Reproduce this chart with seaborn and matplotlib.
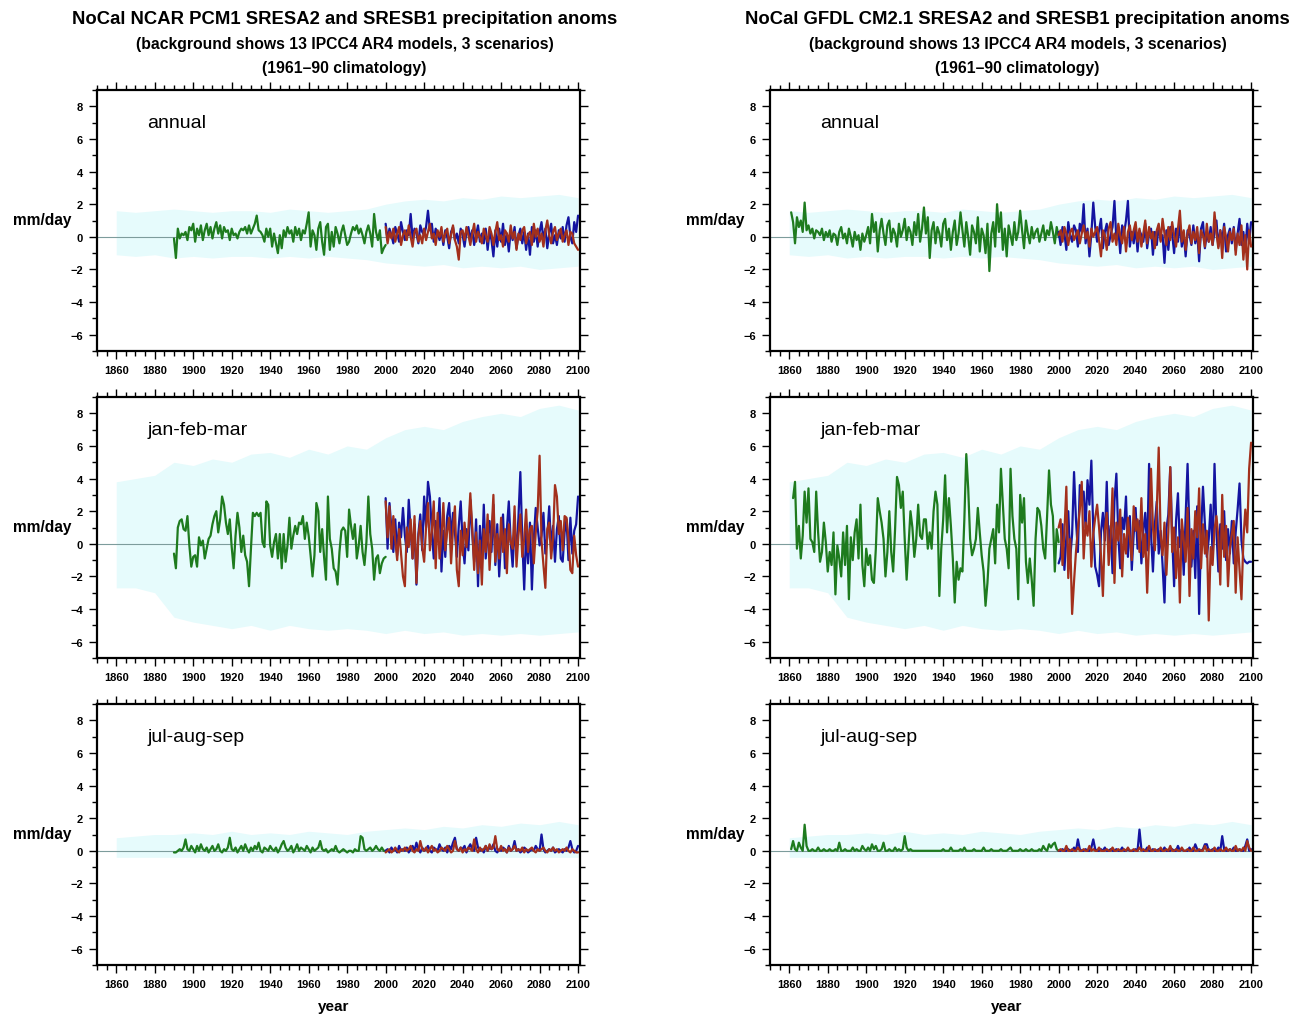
import numpy as np
import seaborn as sns
import matplotlib.pyplot as plt
from matplotlib.ticker import MultipleLocator

sns.set_style('white')
plt.rcParams['font.family'] = ['Liberation Sans', 'DejaVu Sans']
plt.rcParams['axes.unicode_minus'] = True
for key in ['text.color', 'axes.labelcolor', 'xtick.color', 'ytick.color']:
    plt.rcParams[key] = 'black'

# ---------------- data (mm/day anomalies) ----------------
seasons = ['annual', 'jan-feb-mar', 'jul-aug-sep']
titles = ['NoCal NCAR PCM1 SRESA2 and SRESB1 precipitation anoms',
          'NoCal GFDL CM2.1 SRESA2 and SRESB1 precipitation anoms']
subtitle1 = '(background shows 13 IPCC4 AR4 models, 3 scenarios)'
subtitle2 = '(1961\u201390 climatology)'

# background envelope of the 13 models (decadal, 1860-2100)
bg_years = [1860, 1870, 1880, 1890, 1900, 1910, 1920, 1930, 1940, 1950, 1960, 1970, 1980,
            1990, 2000, 2010, 2020, 2030, 2040, 2050, 2060, 2070, 2080, 2090, 2100]
bg_ann_hi = [1.6, 1.5, 1.6, 1.7, 1.6, 1.5, 1.6, 1.6, 1.5, 1.7, 1.6, 1.5, 1.6,
             1.7, 2.0, 2.2, 2.3, 2.2, 2.4, 2.3, 2.5, 2.4, 2.5, 2.6, 2.4]
bg_ann_lo = [-1.1, -1.2, -1.1, -1.3, -1.2, -1.3, -1.2, -1.2, -1.3, -1.2, -1.3, -1.2, -1.3,
             -1.4, -1.6, -1.7, -1.8, -1.7, -1.9, -1.8, -1.9, -1.8, -2.0, -1.9, -1.8]
bg_jfm_hi = [3.8, 4.0, 4.2, 5.0, 4.8, 5.2, 5.0, 5.5, 5.6, 5.3, 5.8, 5.5, 6.0,
             5.8, 6.5, 7.0, 7.2, 7.0, 7.5, 7.8, 8.0, 7.8, 8.3, 8.5, 8.2]
bg_jfm_lo = [-2.7, -2.7, -3.0, -4.5, -4.8, -5.0, -5.2, -5.0, -5.3, -5.0, -5.2, -5.3, -5.2,
             -5.3, -5.5, -5.3, -5.5, -5.4, -5.6, -5.5, -5.6, -5.5, -5.6, -5.5, -5.4]
bg_jas_hi = [0.8, 0.9, 1.0, 1.0, 1.1, 1.0, 1.2, 1.0, 1.1, 1.0, 1.2, 1.1, 1.0,
             1.2, 1.3, 1.4, 1.3, 1.5, 1.4, 1.6, 1.5, 1.7, 1.6, 1.8, 1.6]
bg_jas_lo = [-0.4] * 25

# NCAR PCM1 historical (1890-2000)
pcm_hist_start = 1890
pcm_ann_hist = [-0.1, -1.3, 0.5, -0.1, 0.2, 0.1, 0.3, -0.2, 0.6, 0.4,
                0.8, -0.3, 0.5, 0.1, 0.7, -0.2, 0.4, 0.8, 0.1, 0.6,
                -0.1, 0.5, 0.9, 0.2, 0.7, -0.1, 0.6, 0.3, 0.4, -0.2,
                0.5, 0.1, 0.2, -0.1, 0.3, 0.5, 0.4, 0.6, 0.2, 0.7,
                0.2, 0.5, 0.8, 1.3, 0.4, 0.3, 0.1, -0.3, 0.5, 0.0,
                0.5, -0.6, 0.2, -0.4, -1.0, 0.1, -0.7, 0.4, 0.0, 0.6,
                0.2, 0.4, -0.3, 0.6, 0.1, 0.5, -0.2, 0.4, 0.2, 0.8,
                1.5, -0.6, 0.4, 0.1, -0.8, 0.5, 0.9, -0.3, -1.1, 0.6,
                0.8, -0.8, 0.3, -0.6, 0.6, 0.2, -0.4, 0.3, 0.7, 0.1,
                -0.5, -0.3, 0.2, 0.6, 0.4, 0.7, 0.2, 0.5, 0.1, -0.4,
                0.3, 0.7, 0.2, -0.6, 1.4, 0.3, -0.2, 0.4, -1.0, -0.7,
                -0.5]
pcm_jfm_hist = [-0.6, -1.5, 1.0, 1.4, 1.5, 0.9, 0.8, 1.7, -0.1, -1.4,
                -0.8, -0.7, -1.4, 0.4, -0.1, 0.2, -0.9, -0.3, 0.3, 0.5,
                1.2, 1.7, 2.0, 0.7, 1.5, 2.9, 2.4, 1.3, 0.6, 1.5,
                -0.2, -1.5, 0.5, 1.9, 1.0, -0.5, 0.5, -0.7, -1.1, -2.6,
                -0.3, 1.9, 1.7, 1.9, 1.7, 1.9, 0.1, -0.2, 2.6, 2.4,
                -0.1, -0.8, 0.1, 0.6, -0.9, 0.6, -1.5, 0.6, -1.1, -0.1,
                1.6, -0.3, 0.5, 1.1, 0.6, 1.3, 1.2, 1.7, 0.3, 1.3,
                0.5, -0.7, -2.0, -0.7, 2.5, 2.0, -0.5, 0.9, -0.8, -2.2,
                2.9, 0.3, -0.3, -1.5, -1.7, -2.5, -0.5, 0.8, 1.0, 0.8,
                -0.8, 2.1, 1.1, 0.3, 1.2, -0.9, -0.1, 1.1, -0.5, -1.3,
                0.1, 2.9, 0.6, -0.3, -2.2, -0.9, -0.7, -1.8, -1.2, -0.9,
                -0.8]
pcm_jas_hist = [-0.1, -0.1, 0.0, 0.1, 0.0, 0.2, 0.7, 0.1, 0.0, 0.3,
                0.1, -0.1, 0.3, 0.0, 0.4, 0.1, 0.0, 0.2, -0.1, 0.1,
                0.3, 0.0, 0.1, 0.4, 0.0, -0.1, 0.1, 0.0, 0.2, 0.8,
                0.1, 0.0, 0.2, -0.1, 0.1, 0.3, 0.0, 0.4, 0.1, -0.1,
                0.2, 0.0, 0.3, 0.1, 0.5, 0.0, -0.1, 0.2, 0.1, 0.0,
                0.3, 0.1, 0.0, 0.2, -0.1, 0.1, 0.4, 0.6, 0.2, 0.0,
                0.1, 0.3, -0.1, 0.1, 0.4, 0.0, 0.2, 0.1, 0.0, 0.3,
                0.1, -0.1, 0.2, 0.0, 0.1, 0.2, 0.6, 0.1, 0.0, 0.1,
                -0.1, 0.0, 0.1, 0.0, 0.3, 0.0, -0.1, 0.0, 0.1, 0.0,
                -0.1, 0.0, 0.0, -0.1, 0.1, 0.0, 0.0, 0.9, 0.8, 0.1,
                0.0, 0.1, 0.2, 0.0, 0.1, 0.3, 0.1, 0.0, 0.2, 0.0,
                0.0]

# GFDL CM2.1 historical
gfdl_ann_start = 1861
gfdl_ann_hist = [1.5, 0.9, -0.4, 1.2, 0.6, 1.0, 0.3, 2.1, 0.4, 0.7,
                 0.2, 0.5, -0.1, 0.4, 0.3, 0.1, 0.5, -0.2, 0.3, 0.0,
                 0.4, -0.3, 0.2, 0.1, -0.5, 0.3, 0.6, -0.1, 0.2, -0.4,
                 0.5, 0.0, -0.6, 0.3, -0.2, 0.1, -0.8, 0.2, -0.3, 0.1,
                 0.6, -0.4, 1.4, 0.3, 0.9, -0.9, 0.4, 1.1, 0.2, -0.5,
                 0.7, 1.0, -0.3, 0.5, 0.2, -0.6, 0.8, 0.0, 0.4, 1.1,
                 -0.2, 0.6, 0.3, -0.5, 0.9, 0.1, 1.4, -0.3, 0.5, 1.8,
                 0.2, 1.2, -1.3, 0.4, 0.9, -0.4, 0.6, 0.2, -0.6, 0.8,
                 1.1, -0.2, 0.5, -0.8, 0.3, 1.0, -0.5, 0.2, 1.5, 0.4,
                 -0.6, 0.9, 0.0, -1.1, 0.7, 0.3, -0.4, 1.2, -0.9, 0.5,
                 0.1, -1.0, 0.8, -2.1, 0.2, 0.9, -0.6, 2.0, 0.3, 1.5,
                 -0.8, 0.5, -1.2, 0.7, 0.1, -0.5, 0.9, -0.2, 0.3, 1.6,
                 0.4, -0.7, 1.0, 0.2, -0.4, 0.6, -0.1, 0.3, 0.5, -0.3,
                 0.2, 0.7, -0.2, 0.4, 0.1, 0.9, 0.3, -0.4, 0.6, 0.0]
gfdl_jfm_start = 1862
gfdl_jfm_hist = [2.8, 3.8, -0.3, 1.1, -0.9, 0.5, 3.2, 1.3, 3.4, 0.3,
                 0.1, -0.5, 3.2, 0.7, -1.1, -0.5, 1.3, 0.1, -1.7, -0.5,
                 -1.3, 0.7, -3.1, -0.1, -0.9, -2.0, 0.7, -1.3, 1.1, -3.4,
                 0.4, -1.0,
                 0.7, 1.5, -0.9, 2.4, -1.3, -2.6, -0.3, -1.3, -0.7, -2.2,
                 -2.4, -0.3, 2.8, 2.0, 1.3, 0.3, -2.0, -0.5, 2.0, -0.5,
                 -1.7, 0.9, 4.1, 3.6, 2.2, 3.2, 0.3, -2.2, -0.1, 2.0,
                 1.0, -0.8,
                 0.3, 2.4, 0.5, 0.3, 1.5, 1.5, -0.3, 0.7, -0.3, 2.0,
                 3.2, 2.4, -3.2, -0.3, 1.5, 4.2, 0.7, 2.8, 1.1, -0.9,
                 -3.6, -1.1, -2.2, -1.5, -1.7, 1.5, 5.5, 3.4, 0.3, -0.7,
                 -0.3, 0.3, 2.2, 0.7, -0.7, -1.7, -3.8, -2.4, -0.3, 0.3,
                 0.9, -1.2,
                 2.4, 0.7, 4.6, 2.4, 0.3, -0.3, -1.5, 4.6, 1.7, 0.3,
                 -0.3, -3.4, 3.0, 1.3, 2.8, -1.1, -2.4, -0.9, -2.2, -3.8,
                 0.3, 2.2, 2.0, 1.1, -0.3, -0.9, 1.7, 4.5, 2.4, 1.7,
                 -1.7, 0.9, 0.1]
gfdl_jas_start = 1861
gfdl_jas_hist = [0.1, 0.6, 0.1, 0.0, 0.5, 0.2, 0.0, 1.6, 0.3, 0.0,
                 0.0, 0.1, 0.0, 0.0, 0.2, 0.0, 0.0, 0.1, 0.0, 0.0,
                 0.1, 0.0, 0.0, 0.1, 0.0, 0.5, 0.0, 0.0, 0.1, 0.0,
                 0.0, 0.0, 0.2, 0.0, 0.1, 0.0, 0.0, 0.3, 0.1, 0.0,
                 0.2, 0.0, 0.4, 0.1, 0.3, 0.0, 0.0, 0.1, 0.5, 0.0,
                 0.0, 0.1, 0.0, 0.0, 0.2, 0.0, 0.1, 0.0, 0.1, 0.9,
                 0.2, 0.0, 0.1, 0.0, 0.0, 0.0, 0.0, 0.0, 0.0, 0.0,
                 0.0, 0.0, 0.0, 0.0, 0.0, 0.0, 0.0, 0.0, 0.0, 0.1,
                 0.0, 0.0, 0.0, 0.2, 0.0, 0.0, 0.0, 0.0, 0.1, 0.0,
                 0.2, 0.0, 0.0, 0.0, 0.0, 0.1, 0.0, 0.0, 0.0, 0.0,
                 0.2, 0.0, 0.0, 0.0, 0.1, 0.0, 0.0, 0.0, 0.0, 0.1,
                 0.0, 0.0, 0.0, 0.1, 0.2, 0.0, 0.0, 0.0, 0.0, 0.1,
                 0.0, 0.0, 0.1, 0.0, 0.0, 0.1, 0.0, 0.0, 0.0, 0.1,
                 0.0, 0.3, 0.1, 0.0, 0.4, 0.2, 0.4, 0.5, 0.1, 0.0]

# scenario runs, 2000-2100 (blue = SRESA2, red = SRESB1)
future_start = 2000
pcm_ann_a2 = [0.8, -0.2, 0.5, 0.1, -0.4, 0.6, 0.2, -0.3, 0.9, 0.3,
              -0.2, 0.4, 0.1, 1.4, -0.1, 0.5, 0.2, -0.4, 0.7, 0.3,
              0.1, 0.6, 1.6, 0.4, 0.8, -0.3, 0.5, 0.2, -0.2, 0.3,
              -0.5, 0.4, 0.0, -0.7, 0.3, 0.6, -0.2, 0.2, -0.4, 0.5,
              0.1, -0.6, 0.3, 0.6, -0.2, 0.4, -0.5, 0.1, 0.7, -0.3,
              0.2, -0.4, 0.5, -0.8, 0.3, -0.2, -1.2, 0.4, -0.6, 0.5,
              -0.3, 0.8, -0.5, 0.2, -0.9, 0.4, -0.2, 0.6, -0.7, 0.1,
              0.5, -0.4, 0.3, -0.8, 0.2, -1.1, 0.6, -0.3, 0.4, -0.6,
              0.3, 0.9, -0.2, 0.5, -0.7, 0.2, 0.8, -0.4, 0.1, -0.5,
              0.4, -0.1, 0.6, -0.3, 0.7, 1.2, 0.0, -0.4, 0.9, 0.3,
              1.3]
pcm_ann_b1 = [0.6, -0.4, 0.3, -0.1, 0.5, -0.3, 0.2, 0.6, -0.5, 0.1,
              0.4, -0.2, 0.7, 0.0, -0.6, 0.3, 0.5, -0.3, 0.1, -0.4,
              0.5, -0.2, 0.3, 0.8, -0.1, 0.2, -0.5, 0.4, 0.0, 0.6,
              -0.3, 0.2, 0.5, -0.4, 0.1, 0.7, -0.2, -0.6, -1.4, 0.3,
              0.4, -0.2, 0.6, 0.1, -0.5, 0.2, 0.8, -0.3, 0.3, 0.0,
              -0.4, 0.5, 0.1, -0.3, 0.6, 0.2, -0.5, 0.3, 0.9, -0.2,
              0.1, -0.6, 0.4, 0.2, -0.3, 0.7, -0.1, 0.3, -0.8, 0.2,
              -0.2, 0.4, 0.6, -0.4, 0.1, 0.3, -0.5, 0.8, 0.0, 0.5,
              -0.3, 0.2, -0.6, 0.4, 1.0, 0.1, -0.4, 0.3, 0.6, -0.2,
              0.2, 0.5, -0.3, 0.1, 0.4, -0.5, 0.3, 0.2, -0.4, -0.6,
              -0.8]
pcm_jfm_a2 = [2.8, -0.3, 2.5, 0.9, -0.5, 1.5, -0.7, 1.3, 0.4, 2.2,
              0.5, -0.5, 2.7, 0.8, -0.9, 1.2, -2.5, 0.6, 1.8, -0.4,
              2.9, 1.0, 3.8, 2.9, 0.8, -0.9, 1.4, 0.5, 2.8, -1.7,
              0.8, -0.8, 1.7, 2.5, 0.3, 1.9, 0.7, -0.8, 1.1, 2.6,
              0.1, -1.2, 0.9, -0.4, 2.7, 0.7, -1.1, 1.5, -2.6, 1.1,
              -1.3, 2.4, -0.9, 0.5, 1.4, -0.5, 2.4, -1.3, 1.2, -2.0,
              0.3, 1.8, -1.5, 0.9, 2.6, 0.1, -1.4, 1.1, -0.6, 1.6,
              4.4, 0.3, -2.8, 0.8, -1.2, 1.3, -2.8, 0.3, 2.2, 1.0,
              -0.1, 0.5, 1.9, -0.6, 0.4, 2.3, -0.3, 1.1, -1.1, 0.9,
              1.7, -0.9, -1.1, 0.7, 1.5, -1.0, 1.6, -0.6, 0.8, 1.2,
              2.9]
pcm_jfm_b1 = [2.6, 0.4, 2.3, -0.3, 1.7, 0.2, -1.0, 0.9, -0.6, -2.0,
              -2.6, 1.0, -0.2, 1.5, -0.9, 1.7, -2.4, 0.4, 1.4, -0.2,
              -1.1, 1.0, 2.5, -0.4, 0.8, 2.6, -1.5, 1.9, -0.9, 0.4,
              2.5, -0.4, 0.8, 1.6, -1.2, 0.9, 2.3, -1.6, -2.6, 0.8,
              -0.7, 1.3, -0.2, 0.9, 3.1, 1.0, -1.6, 0.7, -1.8, 0.2,
              -2.5, 0.9, -0.5, 1.8, -1.6, 0.6, 3.0, -1.1, 0.6, -0.9,
              1.6, -0.5, 0.9, -1.8, 1.2, 0.1, -0.3, 2.3, -1.4, 0.5,
              1.8, -0.8, 0.3, 2.1, -0.5, 0.9, 1.1, -1.2, 0.7, 2.0,
              5.4, 0.2, -1.3, -2.7, 0.9, 1.3, -0.9, 0.4, 3.6, 2.9,
              0.6, 1.4, -0.4, 1.7, 1.6, 0.3, -1.6, -1.8, 0.5, -0.7,
              -1.4]
pcm_jas_a2 = [0.0, 0.1, -0.1, 0.2, 0.0, 0.1, -0.1, 0.3, 0.0, 0.1,
              0.0, 0.2, -0.1, 0.1, 0.3, 0.0, 0.5, 0.1, -0.1, 0.2,
              0.0, 0.1, 0.3, 0.0, -0.1, 0.2, 0.1, 0.0, 0.4, 0.1,
              0.0, 0.2, -0.1, 0.3, 0.1, 0.5, 0.8, 0.1, 0.0, 0.2,
              0.1, 0.3, -0.1, 0.2, 0.4, 0.1, 0.0, 0.8, 0.2, 0.0,
              0.1, -0.1, 0.3, 0.0, 0.2, 0.1, 0.4, 0.0, -0.1, 0.1,
              0.0, 0.2, 0.1, -0.1, 0.3, 0.0, 0.1, 0.6, 0.0, 0.1,
              -0.1, 0.0, 0.2, 0.1, -0.1, 0.0, 0.1, 0.0, 0.3, 0.1,
              0.0, 1.0, 0.1, -0.1, 0.0, 0.1, 0.0, 0.2, -0.1, 0.0,
              0.1, 0.0, -0.1, 0.1, 0.0, 0.2, 0.6, 0.1, -0.1, 0.0,
              0.3]
pcm_jas_b1 = [-0.1, 0.0, 0.1, -0.1, 0.0, 0.2, 0.0, -0.1, 0.1, 0.0,
              0.2, 0.0, 0.1, 0.3, 0.0, -0.1, 0.1, 0.0, 0.6, 0.1,
              0.0, 0.2, -0.1, 0.1, 0.3, 0.0, 0.1, -0.1, 0.0, 0.2,
              0.1, 0.0, 0.3, 0.1, -0.1, 0.0, 0.6, 0.1, 0.0, 0.2,
              -0.1, 0.1, 0.0, 0.2, 0.1, 0.0, 0.7, 0.1, -0.1, 0.2,
              0.0, 0.1, 0.3, 0.0, 0.4, 0.1, 0.2, 0.9, 0.1, 0.0,
              0.3, 0.0, 0.1, -0.1, 0.2, 0.0, 0.1, 0.3, 0.0, 0.1,
              0.0, 0.2, -0.1, 0.1, 0.0, 0.1, 0.2, 0.0, -0.1, 0.1,
              0.0, 0.1, 0.2, 0.0, -0.1, 0.1, 0.0, 0.2, 0.0, 0.1,
              -0.1, 0.0, 0.1, 0.0, 0.2, 0.0, -0.1, 0.1, 0.0, -0.1,
              -0.1]
gfdl_ann_a2 = [0.3, -0.5, 0.6, 0.2, -0.8, 0.9, 0.1, -0.3, 0.7, 0.4,
               -0.6, 0.8, 0.3, 2.0, -0.4, 0.5, -1.2, 0.2, 2.1, 0.6,
               -0.3, 0.4, 1.1, -0.7, 0.3, 0.8, -0.5, 0.1, 0.6, 2.2,
               -0.2, 0.5, -1.0, 0.7, 0.2, 1.0, 2.2, -0.6, 0.3, -0.4,
               0.6, -0.9, 0.4, 0.1, -0.3, 0.8, -0.7, 0.2, 0.5, -1.1,
               0.3, -0.5, 0.7, -0.2, 0.1, -1.6, 0.4, -0.8, 0.6, 0.2,
               -1.0, 0.5, -0.3, 0.8, -0.6, 0.2, -1.2, 0.4, 0.1, -0.5,
               0.7, -0.4, 0.3, -1.5, 0.5, 0.9, -0.7, 0.2, -0.3, 0.6,
               -0.5, 0.3, 1.0, -0.6, 0.4, -0.2, 0.8, -0.9, 0.1, 0.5,
               -0.4, 0.6, -0.8, 0.2, 1.1, -0.5, 0.3, -0.9, 0.8, -0.3,
               0.9]
gfdl_ann_b1 = [0.1, 0.4, -0.3, 0.6, 0.2, -0.5, 0.3, 0.5, -0.2, 0.1,
               0.4, -0.4, 0.2, 0.7, -0.1, 0.3, -0.6, 0.5, 0.0, 0.3,
               0.6, -0.2, -1.2, 0.4, 0.1, -0.8, 0.5, 0.9, -0.3, 0.2,
               -0.5, 0.8, 0.1, -0.4, 0.6, -0.9, 0.3, 0.7, -0.2, 0.4,
               0.9, -0.3, 0.5, -0.6, 0.2, 1.0, -0.4, 0.6, -0.1, 0.3,
               -0.7, 0.4, 0.8, -0.3, 1.1, 0.2, -0.5, 0.6, -0.2, 0.9,
               0.1, -0.6, 0.5, 1.6, -0.3, 0.4, -0.8, 0.2, 0.7, -0.4,
               0.3, -0.2, 0.6, -1.0, 0.4, 0.1, -0.6, 0.8, -0.3, 0.2,
               -0.5, 1.5, 0.2, -0.7, 0.4, -1.3, 0.6, 0.0, -0.9, 0.3,
               -0.2, 0.5, -1.1, 0.2, -0.5, 0.7, -1.4, 0.1, -2.0, 0.4,
               -0.6]
gfdl_jfm_a2 = [-1.2, -0.8, 1.2, -1.6, 0.4, 2.0, -0.9, 0.6, 4.4, 1.5,
               -0.5, 3.6, 2.8, 3.2, 1.0, 3.9, 2.4, 5.1, 0.8, -1.4,
               -1.9, -2.6, 0.7, 1.9, 0.2, 3.8, -0.5, 1.1, -1.8, 2.6,
               4.3, 0.5, -1.5, 1.6, 0.9, 2.9, -0.8, 1.7, -1.6, 0.6,
               2.2, -0.3, 1.4, -1.2, 0.8, 1.9, -0.4, 4.9, 0.6, -1.7,
               1.2, 2.6, -0.6, 0.8, -1.3, -3.6, 0.9, 1.8, 4.7, 0.4,
               -2.6, 1.4, 3.1, -0.2, 0.9, -1.9, 1.7, 4.9, 0.5, -1.4,
               0.8, -2.1, 2.3, -4.3, 0.6, 3.5, 1.2, -0.8, 0.3, 2.4,
               -0.6, 4.9, 0.8, -1.7, 1.2, -0.3, 2.0, -1.0, 0.9, -0.6,
               1.4, -1.2, 0.7, 2.1, 3.7, 0.2, -0.9, -1.1, -1.2, -1.1,
               -1.1]
gfdl_jfm_b1 = [1.0, 1.5, -1.3, 0.7, 3.5, -2.1, 0.3, -4.3, -2.3, -0.5,
               0.9, 2.1, 3.8, -0.9, 1.3, 0.5, 2.0, -1.4, 0.6, 1.6,
               2.4, 1.0, -0.7, -3.2, 0.8, 1.9, -1.3, 0.4, 3.4, -2.4,
               1.3, 0.2, 2.1, -2.0, 0.6, -0.6, 1.6, 0.3, -1.0, 2.3,
               0.8, 1.5, -0.5, 2.8, -0.8, 0.6, -3.0, 0.3, 4.6, 1.0,
               -0.4, 2.1, 5.9, 0.5, -0.7, 1.3, -1.9, 0.7, 4.7, -0.5,
               1.0, -2.1, 0.4, -3.6, 1.5, 0.2, -1.1, 2.2, -3.2, 0.9,
               -0.9, 2.0, 0.4, 3.4, -1.5, 1.2, -0.6, 0.8, -4.7, -0.2,
               -1.3, 0.9, 1.7, 0.4, -2.5, 3.0, -0.8, 1.1, -2.6, -0.3,
               0.6, 1.4, -3.0, 0.4, -1.6, -3.4, 0.2, 2.1, 0.7, 4.6,
               6.2]
gfdl_jas_a2 = [0.0, 0.0, 0.1, 0.0, 0.0, 0.1, 0.0, 0.0, 0.2, 0.0,
               0.7, 0.1, 0.0, 0.0, 0.1, 0.0, 0.0, 0.2, 0.7, 0.1,
               0.0, 0.0, 0.1, 0.0, 0.2, 0.0, 0.0, 0.1, 0.0, 0.0,
               0.1, 0.0, 0.0, 0.2, 0.0, 0.0, 0.1, 0.0, 0.0, 0.0,
               0.1, 0.0, 1.3, 0.1, 0.0, 0.0, 0.2, 0.0, 0.0, 0.1,
               0.0, 0.0, 0.1, 0.0, 0.0, 0.2, 0.0, 0.0, 0.0, 0.1,
               0.0, 0.0, 0.3, 0.0, 0.1, 0.0, 0.0, 0.0, 0.2, 0.0,
               0.0, 0.4, 0.1, 0.0, 0.0, 0.1, 0.4, 0.4, 0.0, 0.0,
               0.1, 0.0, 0.0, 0.2, 0.0, 0.9, 0.1, 0.0, 0.0, 0.1,
               0.0, 0.2, 0.0, 0.0, 0.1, 0.0, 0.0, 0.3, 0.7, 0.0,
               0.1]
gfdl_jas_b1 = [0.0, 0.1, 0.0, 0.0, 0.3, 0.0, 0.0, 0.1, 0.0, 0.0,
               0.2, 0.0, 0.0, 0.1, 0.0, 0.0, 0.3, 0.0, 0.1, 0.0,
               0.0, 0.2, 0.0, 0.0, 0.0, 0.1, 0.0, 0.0, 0.2, 0.0,
               0.0, 0.1, 0.0, 0.0, 0.1, 0.0, 0.2, 0.0, 0.0, 0.1,
               0.0, 0.0, 0.2, 0.0, 0.1, 0.0, 0.0, 0.3, 0.0, 0.0,
               0.1, 0.0, 0.0, 0.2, 0.0, 0.0, 0.1, 0.0, 0.3, 0.0,
               0.0, 0.1, 0.0, 0.0, 0.2, 0.0, 0.0, 0.1, 0.0, 0.0,
               0.2, 0.0, 0.0, 0.1, 0.0, 0.0, 0.3, 0.0, 0.1, 0.0,
               0.0, 0.2, 0.0, 0.0, 0.1, 0.0, 0.0, 0.2, 0.0, 0.1,
               0.0, 0.0, 0.3, 0.0, 0.1, 0.0, 0.2, 0.0, 0.6, 0.2,
               0.0]

x_ticks = list(range(1860, 2101, 20))
y_ticks = [-6, -4, -2, 0, 2, 4, 6, 8]

GREEN = '#1e7b1e'
BLUE = '#1414a0'
RED = '#a3301c'
CYAN = '#e6fbfc'
ZERO = '#7d9c9c'

# ---------------- figure ----------------
fig = plt.figure(figsize=(12.97, 10.20), dpi=100)
W, H = 1297.0, 1020.0
col_left = [97 / W, 770 / W]
row_bottom = [1 - 352 / H, 1 - 659 / H, 1 - 966 / H]
ax_w = 483 / W
ax_h = 261 / H

backgrounds = [(bg_ann_hi, bg_ann_lo), (bg_jfm_hi, bg_jfm_lo), (bg_jas_hi, bg_jas_lo)]
model_runs = [
    [(pcm_hist_start, pcm_ann_hist, pcm_ann_a2, pcm_ann_b1),
     (pcm_hist_start, pcm_jfm_hist, pcm_jfm_a2, pcm_jfm_b1),
     (pcm_hist_start, pcm_jas_hist, pcm_jas_a2, pcm_jas_b1)],
    [(gfdl_ann_start, gfdl_ann_hist, gfdl_ann_a2, gfdl_ann_b1),
     (gfdl_jfm_start, gfdl_jfm_hist, gfdl_jfm_a2, gfdl_jfm_b1),
     (gfdl_jas_start, gfdl_jas_hist, gfdl_jas_a2, gfdl_jas_b1)],
]

for c in range(2):
    xc = col_left[c] + ax_w / 2 + 6 / W
    fig.text(xc, 1 - 19 / H, titles[c], ha='center', va='center',
             fontsize=13.3, fontweight='bold')
    fig.text(xc, 1 - 44 / H, subtitle1, ha='center', va='center',
             fontsize=11.3, fontweight='bold')
    fig.text(xc, 1 - 68 / H, subtitle2, ha='center', va='center',
             fontsize=11.3, fontweight='bold')

    for r in range(3):
        ax = fig.add_axes([col_left[c], row_bottom[r], ax_w, ax_h])
        hi, lo = backgrounds[r]
        ax.fill_between(bg_years, lo, hi, color=CYAN, lw=0, zorder=1)
        ax.axhline(0, color=ZERO, lw=0.8, zorder=2)

        start, hist, a2, b1 = model_runs[c][r]
        hist_years = np.arange(start, start + len(hist))
        fut_years = np.arange(future_start, future_start + len(a2))
        sns.lineplot(x=hist_years, y=hist, color=GREEN, lw=1.6, ax=ax, zorder=3)
        sns.lineplot(x=fut_years, y=a2, color=BLUE, lw=1.6, ax=ax, zorder=3)
        sns.lineplot(x=fut_years, y=b1, color=RED, lw=1.6, ax=ax, zorder=4)

        ax.set_xlim(1850, 2101)
        ax.set_ylim(-7, 9)
        ax.set_xticks(x_ticks)
        ax.set_xticklabels([str(t) for t in x_ticks])
        ax.set_yticks(y_ticks)
        ax.set_yticklabels([f'{t}'.replace('-', '\u2212') for t in y_ticks])
        ax.xaxis.set_minor_locator(MultipleLocator(5))
        ax.yaxis.set_minor_locator(MultipleLocator(1))
        ax.tick_params(which='both', direction='out', top=True, right=True,
                       bottom=True, left=True, width=1.0, color='black')
        ax.tick_params(which='major', length=6, labelsize=8, pad=4)
        ax.tick_params(which='minor', length=3.5)
        for lab in ax.get_xticklabels() + ax.get_yticklabels():
            lab.set_fontweight('bold')
        for sp in ax.spines.values():
            sp.set_linewidth(1.6)
            sp.set_color('black')
        ax.set_xlabel('')
        ax.set_ylabel('')

        ax.text(0.104, 0.874, seasons[r], transform=ax.transAxes, ha='left',
                va='center', fontsize=14)
        ax.text(-0.114, 0.502, 'mm/day', transform=ax.transAxes, ha='center',
                va='center', fontsize=11.2, fontweight='bold')

    fig.text(col_left[c] + 0.49 * ax_w, 1 - 1007 / H, 'year', ha='center',
             va='center', fontsize=11, fontweight='bold')

fig.savefig('out.png', dpi=100)
